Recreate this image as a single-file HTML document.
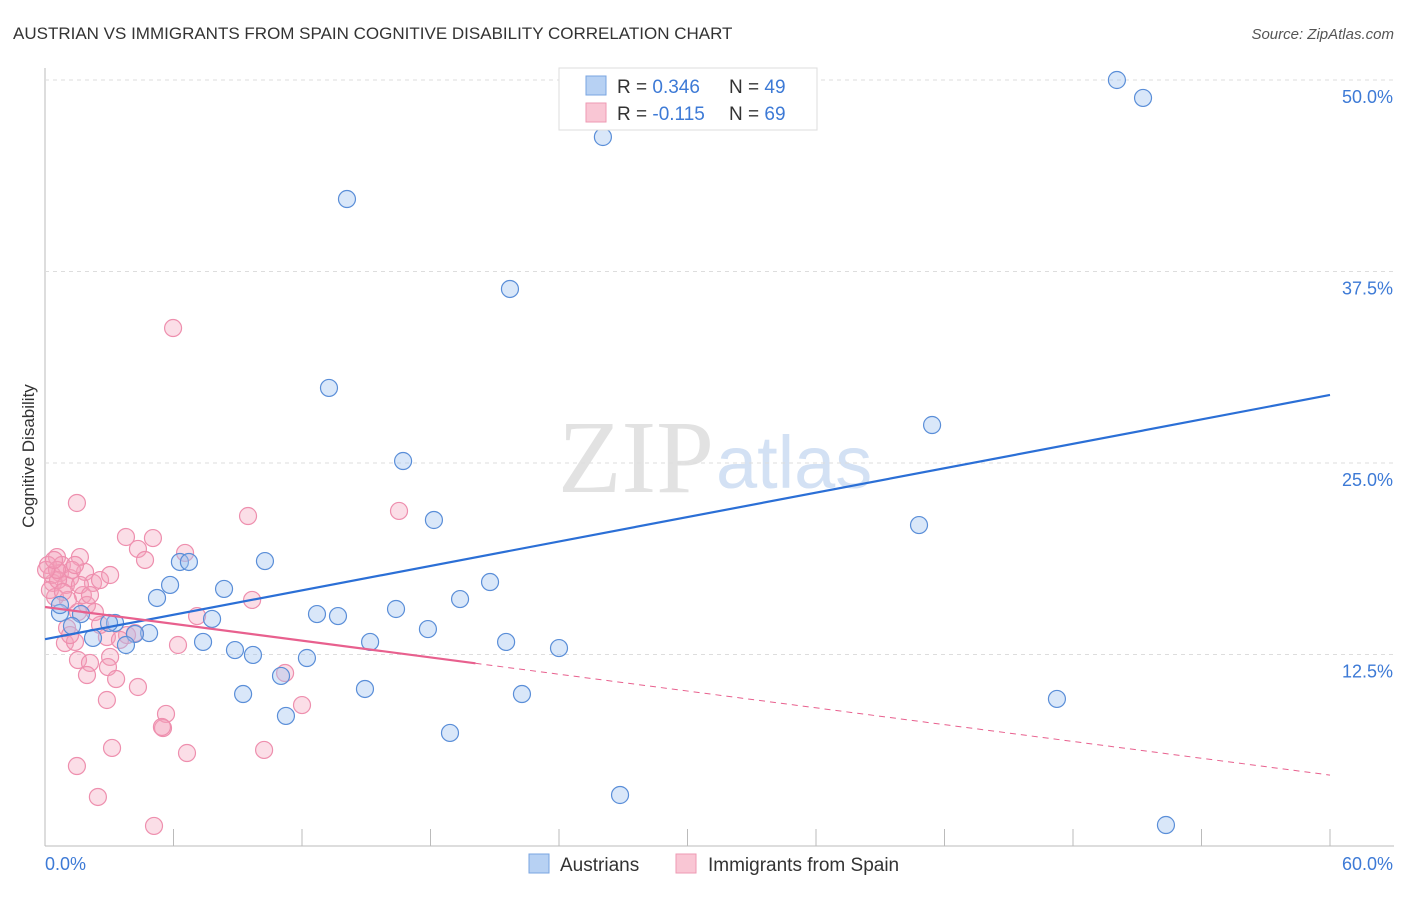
<!DOCTYPE html>
<html><head><meta charset="utf-8"><style>
body{margin:0;background:#fff;font-family:"Liberation Sans",sans-serif;}
</style></head><body>
<svg id="c" width="1406" height="892" xmlns="http://www.w3.org/2000/svg">
<text x="13" y="39" font-size="17" fill="#333">AUSTRIAN VS IMMIGRANTS FROM SPAIN COGNITIVE DISABILITY CORRELATION CHART</text>
<text x="1394" y="39" font-size="15" fill="#555" text-anchor="end" font-style="italic">Source: ZipAtlas.com</text>
<text x="0" y="0" transform="translate(34,456) rotate(-90)" font-size="17" fill="#333" text-anchor="middle">Cognitive Disability</text>
<text x="714" y="492" font-size="104" fill="#e2e2e2" text-anchor="end" font-family="Liberation Serif,serif">ZIP</text>
<text x="716" y="488" font-size="74" fill="#d3e1f4">atlas</text>
<g id="grid"></g><g id="pts"></g><g id="lines"></g>
<g>
<rect x="559" y="68" width="258" height="62" fill="#fff" stroke="#ddd"/>
<rect x="586" y="76" width="20" height="19" fill="#b7d1f3" stroke="#7aa5e0"/>
<rect x="586" y="103" width="20" height="19" fill="#f9c6d4" stroke="#ee9ab3"/>
<text x="617" y="93" font-size="19" fill="#333">R = <tspan fill="#3d7ad6">0.346</tspan></text>
<text x="729" y="93" font-size="19" fill="#333">N = <tspan fill="#3d7ad6">49</tspan></text>
<text x="617" y="120" font-size="19" fill="#333">R = <tspan fill="#3d7ad6">-0.115</tspan></text>
<text x="729" y="120" font-size="19" fill="#333">N = <tspan fill="#3d7ad6">69</tspan></text>
</g>
<rect x="529" y="854" width="20" height="19" fill="#b7d1f3" stroke="#7aa5e0"/>
<text x="560" y="871" font-size="19" fill="#333">Austrians</text>
<rect x="676" y="854" width="20" height="19" fill="#f9c6d4" stroke="#ee9ab3"/>
<text x="708" y="871" font-size="19" fill="#333">Immigrants from Spain</text>
<text x="45" y="870" font-size="18" fill="#3d7ad6">0.0%</text>
<text x="1393" y="870" font-size="18" fill="#3d7ad6" text-anchor="end">60.0%</text>
</svg>
<script>
const yTicks=[12.5,25,37.5,50];
const yTickLabels=["12.5%","25.0%","37.5%","50.0%"];
const xTicks=[6,12,18,24,30,36,42,48,54,60];
const bluePx=[[1117,80],[1143,98],[603,137],[347,199],[510,289],[329,388],[932,425],[403,461],[434,520],[919,525],[265,561],[180,562],[189,562],[170,585],[224,589],[490,582],[157,598],[460,599],[60,613],[81,614],[317,614],[338,616],[396,609],[212,619],[115,623],[72,626],[428,629],[149,633],[135,634],[93,638],[126,645],[203,642],[370,642],[506,642],[559,648],[235,650],[253,655],[307,658],[281,676],[243,694],[365,689],[522,694],[1057,699],[286,716],[450,733],[620,795],[1166,825],[109,623],[60,605]];
const pinkPx=[[173,328],[77,503],[248,516],[399,511],[126,537],[153,538],[138,549],[145,560],[185,553],[80,557],[57,557],[85,572],[93,583],[60,573],[53,583],[70,578],[83,595],[55,597],[87,605],[95,612],[252,600],[197,616],[67,628],[65,643],[75,642],[107,637],[127,635],[135,633],[178,645],[78,660],[90,663],[110,657],[87,675],[108,667],[116,679],[138,687],[285,673],[107,700],[302,705],[166,714],[163,728],[162,727],[112,748],[187,753],[264,750],[77,766],[98,797],[154,826],[48,565],[52,575],[62,565],[66,585],[72,570],[50,590],[58,580],[80,585],[68,600],[90,595],[100,580],[110,575],[78,612],[70,635],[100,625],[120,640],[57,570],[63,592],[46,570],[54,560],[75,565]];
const blueX=bluePx.map(p=>+((p[0]-45)/21.4167).toFixed(2)), blueY=bluePx.map(p=>+((846-p[1])/15.32).toFixed(2));
const pinkX=pinkPx.map(p=>+((p[0]-45)/21.4167).toFixed(2)), pinkY=pinkPx.map(p=>+((846-p[1])/15.32).toFixed(2));
const blueTrend=[13.5,29.44], pinkTrend=[15.6,4.63], pinkSolidEnd=20.1;
const X=v=>45+v*1285/60, Y=v=>846-v*766/50;
const NS="http://www.w3.org/2000/svg";
function mk(t,a,p){const e=document.createElementNS(NS,t);for(const k in a)e.setAttribute(k,a[k]);p.appendChild(e);return e;}
const g=document.getElementById('grid');
let ax=mk('line',{x1:45,y1:68,x2:45,y2:846,stroke:'#bbb'},g);


let bx=mk('line',{x1:45,y1:846,x2:1394,y2:846,stroke:'#bbb'},g);


yTicks.forEach((v,i)=>{
 let l=mk('line',{x1:45,y1:Y(v),x2:1394,y2:Y(v),stroke:'#ddd','stroke-dasharray':'4,4'},g);
 
 
 let t=mk('text',{x:1393,y:Y(v)+23,'font-size':18,fill:'#3d7ad6','text-anchor':'end'},g);
 t.textContent=yTickLabels[i];
 
 
});
xTicks.forEach(v=>{
 let l=mk('line',{x1:X(v),y1:829,x2:X(v),y2:846,stroke:'#bbb'},g);
 
 
});
const pg=document.getElementById('pts');
pinkX.forEach((x,i)=>{
 let c=mk('circle',{cx:X(x),cy:Y(pinkY[i]),r:8.5,fill:'rgba(244,160,186,0.35)',stroke:'#ee8fae','stroke-width':1.2},pg);
 
 
});
blueX.forEach((x,i)=>{
 let c=mk('circle',{cx:X(x),cy:Y(blueY[i]),r:8.5,fill:'rgba(160,196,240,0.4)',stroke:'#5a8ed8','stroke-width':1.2},pg);
 
 
});
const lg=document.getElementById('lines');
let b=mk('line',{x1:X(0),y1:Y(blueTrend[0]),x2:X(60),y2:Y(blueTrend[1]),stroke:'#2b6fd6','stroke-width':2.2},lg);


const py=v=>pinkTrend[0]+(pinkTrend[1]-pinkTrend[0])*v/60;
let p=mk('line',{x1:X(0),y1:Y(py(0)),x2:X(pinkSolidEnd),y2:Y(py(pinkSolidEnd)),stroke:'#e8608e','stroke-width':2.2},lg);


let pd=mk('line',{x1:X(pinkSolidEnd),y1:Y(py(pinkSolidEnd)),x2:X(60),y2:Y(py(60)),stroke:'#e8608e','stroke-width':1,'stroke-dasharray':'6,5'},lg);


</script>
</body></html>
